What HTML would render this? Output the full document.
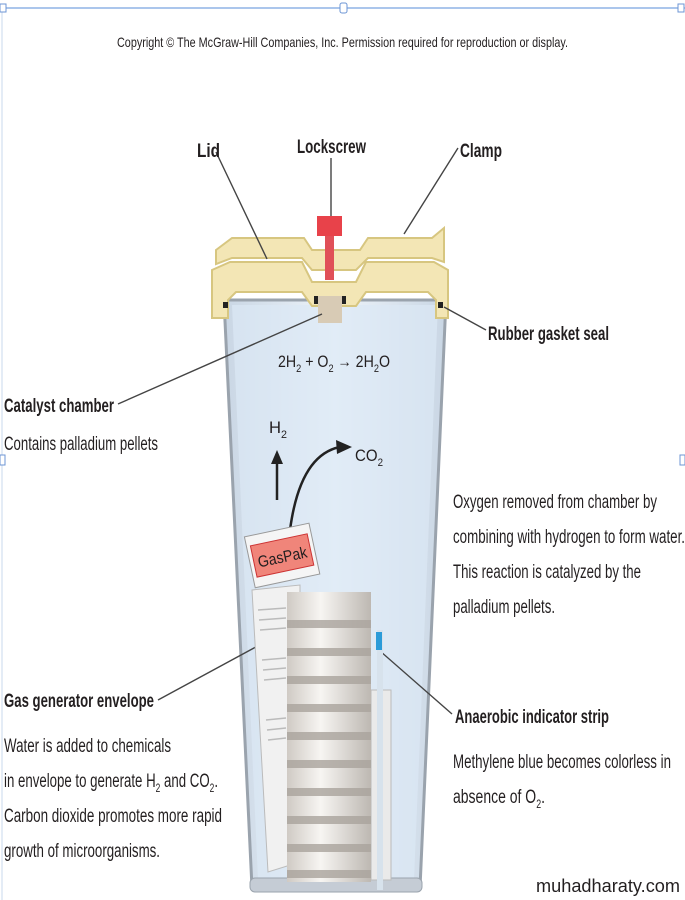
<!DOCTYPE html>
<html><head><meta charset="utf-8"><style>
html,body{margin:0;padding:0;background:#fff}
svg{display:block}
text{font-family:"Liberation Sans",sans-serif;fill:#231f20}
.b{font-weight:bold}
</style></head><body>
<svg width="685" height="900" viewBox="0 0 685 900" xmlns="http://www.w3.org/2000/svg">
<defs>
<linearGradient id="jar" x1="0" x2="1"><stop offset="0" stop-color="#c9d6e4"/><stop offset="0.5" stop-color="#eef4fa"/><stop offset="1" stop-color="#c9d6e4"/></linearGradient>
<linearGradient id="plate" x1="0" x2="1"><stop offset="0" stop-color="#cfcac4"/><stop offset="0.4" stop-color="#f7f5f2"/><stop offset="1" stop-color="#bdb8b2"/></linearGradient>
</defs>
<line x1="0" y1="8" x2="685" y2="8" stroke="#8fb4e6" stroke-width="1.5"/>
<line x1="2" y1="8" x2="2" y2="900" stroke="#c8d8ee" stroke-width="1"/>
<rect x="0" y="4" width="6" height="8" fill="#fff" stroke="#6c95d4"/>
<rect x="340" y="3" width="7" height="10" rx="2" fill="#fff" stroke="#6c95d4"/>
<rect x="678" y="4" width="6" height="8" fill="#fff" stroke="#6c95d4"/>
<rect x="0" y="455" width="5" height="10" fill="#fff" stroke="#6c95d4"/>
<rect x="680" y="455" width="5" height="10" fill="#fff" stroke="#6c95d4"/>

<text x="117" y="47" font-size="14" textLength="451" lengthAdjust="spacingAndGlyphs">Copyright © The McGraw-Hill Companies, Inc. Permission required for reproduction or display.</text>

<path d="M224 300 L446 300 L420 888 L252 888 Z" fill="url(#jar)" stroke="#9aa3ad" stroke-width="3"/>
<path d="M232 305 L438 305 L414 880 L258 880 Z" fill="#dce8f5" opacity="0.7"/>
<rect x="250" y="878" width="172" height="14" rx="5" fill="#c5ccd5" stroke="#9aa3ad"/>

<path d="M212 270 L230 262 L302 262 L312 282 L356 282 L366 262 L434 262 L448 270 L448 318 L436 318 L436 300 L428 292 L366 292 L356 306 L312 306 L302 292 L236 292 L228 300 L228 318 L212 318 Z" fill="#f3e6b5" stroke="#d7c680" stroke-width="2"/>
<path d="M216 250 L232 238 L304 238 L312 250 L360 250 L368 238 L432 238 L444 228 L444 262 L432 258 L368 258 L356 270 L312 270 L302 258 L232 258 L216 264 Z" fill="#f3e6b5" stroke="#d7c680" stroke-width="2"/>
<rect x="223" y="302" width="5" height="6" fill="#222"/><rect x="438" y="302" width="5" height="6" fill="#222"/>
<rect x="317" y="216" width="25" height="20" fill="#e8424a"/>
<rect x="325" y="236" width="9" height="44" fill="#e05058"/>
<rect x="318" y="296" width="24" height="27" fill="#d8cbb5"/>
<rect x="314" y="296" width="4" height="8" fill="#222"/><rect x="342" y="296" width="4" height="8" fill="#222"/>

<g stroke="#444" stroke-width="1.4" fill="none">
<line x1="216" y1="152" x2="267" y2="259"/>
<line x1="331" y1="158" x2="331" y2="216"/>
<line x1="458" y1="148" x2="404" y2="234"/>
<line x1="444" y1="307" x2="486" y2="330"/>
<line x1="118" y1="404" x2="322" y2="314"/>
<line x1="158" y1="700" x2="265" y2="642"/>
<line x1="380" y1="651" x2="452" y2="714"/>
</g>

<line x1="277" y1="500" x2="277" y2="462" stroke="#222" stroke-width="2.5"/>
<path d="M271 464 L277 450 L283 464 Z" fill="#222"/>
<path d="M290 530 Q300 455 340 447" stroke="#222" stroke-width="2.5" fill="none"/>
<path d="M336 440 L352 447 L337 454 Z" fill="#222"/>

<path d="M252 590 L300 585 L300 862 L268 872 Z" fill="#f1f1f1" stroke="#bbb"/>
<g stroke="#bbb" stroke-width="1.5">
<line x1="258" y1="610" x2="286" y2="608"/><line x1="259" y1="620" x2="286" y2="618"/><line x1="260" y1="630" x2="286" y2="628"/>
<line x1="262" y1="660" x2="286" y2="658"/><line x1="263" y1="670" x2="286" y2="668"/><line x1="264" y1="680" x2="286" y2="678"/>
<line x1="266" y1="720" x2="286" y2="718"/><line x1="267" y1="730" x2="286" y2="728"/><line x1="268" y1="740" x2="286" y2="738"/>
</g>
<g transform="rotate(-12 280 560)">
<rect x="250" y="530" width="66" height="52" fill="#f5f5f5" stroke="#999"/>
<rect x="254" y="540" width="58" height="32" fill="#f0857a" stroke="#c33"/>
<text x="258" y="563" font-size="16" fill="#3a1a1a" textLength="50" lengthAdjust="spacingAndGlyphs">GasPak</text>
</g>
<rect x="371" y="690" width="20" height="190" fill="#eaeaea" stroke="#bbb"/>
<rect x="377" y="630" width="6" height="260" fill="#d7e2ec"/>
<rect x="376" y="632" width="6" height="18" fill="#2b9bd8"/>
<rect x="287" y="592" width="84" height="290" fill="url(#plate)"/>
<g fill="#aaa49d" opacity="0.8">
<rect x="287" y="620" width="84" height="8"/><rect x="287" y="648" width="84" height="8"/>
<rect x="287" y="676" width="84" height="8"/><rect x="287" y="704" width="84" height="8"/>
<rect x="287" y="732" width="84" height="8"/><rect x="287" y="760" width="84" height="8"/>
<rect x="287" y="788" width="84" height="8"/><rect x="287" y="816" width="84" height="8"/>
<rect x="287" y="844" width="84" height="8"/><rect x="287" y="870" width="84" height="8"/>
</g>

<text class="b" x="197" y="157" font-size="19" textLength="23" lengthAdjust="spacingAndGlyphs">Lid</text>
<text class="b" x="297" y="153" font-size="19" textLength="69" lengthAdjust="spacingAndGlyphs">Lockscrew</text>
<text class="b" x="460" y="157" font-size="19" textLength="42" lengthAdjust="spacingAndGlyphs">Clamp</text>
<text class="b" x="488" y="340" font-size="19" textLength="121" lengthAdjust="spacingAndGlyphs">Rubber gasket seal</text>
<text x="278" y="367" font-size="17" textLength="112" lengthAdjust="spacingAndGlyphs">2H<tspan font-size="11" dy="5">2</tspan><tspan dy="-5"> + O</tspan><tspan font-size="11" dy="5">2</tspan><tspan dy="-5"> → 2H</tspan><tspan font-size="11" dy="5">2</tspan><tspan dy="-5">O</tspan></text>
<text x="269" y="433" font-size="17" textLength="18" lengthAdjust="spacingAndGlyphs">H<tspan font-size="11" dy="5">2</tspan></text>
<text x="355" y="461" font-size="17" textLength="28" lengthAdjust="spacingAndGlyphs">CO<tspan font-size="11" dy="5">2</tspan></text>
<text class="b" x="4" y="412" font-size="19" textLength="110" lengthAdjust="spacingAndGlyphs">Catalyst chamber</text>
<text x="4" y="450" font-size="19" textLength="154" lengthAdjust="spacingAndGlyphs">Contains palladium pellets</text>
<g font-size="19">
<text x="453" y="508" textLength="204" lengthAdjust="spacingAndGlyphs">Oxygen removed from chamber by</text>
<text x="453" y="543" textLength="232" lengthAdjust="spacingAndGlyphs">combining with hydrogen to form water.</text>
<text x="453" y="578" textLength="188" lengthAdjust="spacingAndGlyphs">This reaction is catalyzed by the</text>
<text x="453" y="613" textLength="102" lengthAdjust="spacingAndGlyphs">palladium pellets.</text>
</g>
<text class="b" x="4" y="707" font-size="19" textLength="150" lengthAdjust="spacingAndGlyphs">Gas generator envelope</text>
<g font-size="19">
<text x="4" y="752" textLength="167" lengthAdjust="spacingAndGlyphs">Water is added to chemicals</text>
<text x="4" y="787" textLength="214" lengthAdjust="spacingAndGlyphs">in envelope to generate H<tspan font-size="12" dy="5">2</tspan><tspan dy="-5"> and CO</tspan><tspan font-size="12" dy="5">2</tspan><tspan dy="-5">.</tspan></text>
<text x="4" y="822" textLength="218" lengthAdjust="spacingAndGlyphs">Carbon dioxide promotes more rapid</text>
<text x="4" y="857" textLength="156" lengthAdjust="spacingAndGlyphs">growth of microorganisms.</text>
</g>
<text class="b" x="455" y="723" font-size="19" textLength="154" lengthAdjust="spacingAndGlyphs">Anaerobic indicator strip</text>
<text x="453" y="768" font-size="19" textLength="218" lengthAdjust="spacingAndGlyphs">Methylene blue becomes colorless in</text>
<text x="453" y="803" font-size="19" textLength="92" lengthAdjust="spacingAndGlyphs">absence of O<tspan font-size="12" dy="5">2</tspan><tspan dy="-5">.</tspan></text>
<text x="536" y="892" font-size="18" textLength="144" lengthAdjust="spacingAndGlyphs">muhadharaty.com</text>
</svg>
</body></html>
